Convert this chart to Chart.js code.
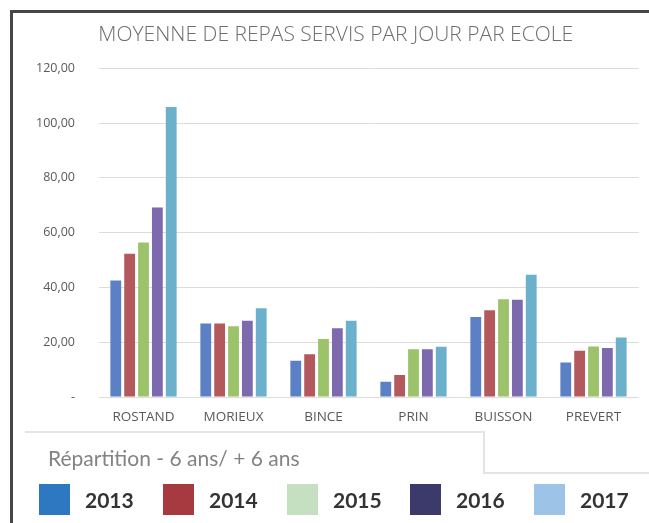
<!DOCTYPE html>
<html>
<head>
<meta charset="utf-8">
<script src="https://cdn.jsdelivr.net/npm/chart.js@4"></script>
<style>
    body { margin: 0; background: #fff; width: 649px; height: 523px; overflow: hidden; position: relative; font-family: "Open Sans", sans-serif; }
    .frame { position: absolute; left: 10px; top: 10px; width: 660px; height: 540px; border-left: 3px solid #474747; border-top: 3px solid #474747; }
    .chart-box { position: absolute; left: 21px; top: 13px; width: 628px; height: 424px; }
    .repart-box { position: absolute; left: 25px; top: 431px; width: 458px; height: 41px; border-top: 2px solid #e4e4e4; border-right: 2px solid #e4e4e4; }
    .repart-line { position: absolute; left: 483px; top: 472px; width: 170px; border-top: 2px solid #e4e4e4; }
    .repart-text { position: absolute; left: 48px; top: 445px; font-family: Lato, sans-serif; font-size: 21px; color: #838383; line-height: 25px; white-space: nowrap; }
    .legend-item { position: absolute; top: 484px; height: 31px; }
    .legend-item .sq { position: absolute; left: 0; top: 0; width: 31px; height: 31px; }
    .legend-item .lbl { position: absolute; left: 46px; top: 3px; font-family: Lato, sans-serif; font-weight: bold; font-size: 21px; line-height: 26px; color: #333; }
</style>
</head>
<body>
<div class="frame"></div>
<div class="chart-box"><canvas id="repasChart"></canvas></div>
<div class="repart-box"></div>
<div class="repart-line"></div>
<div class="repart-text">Répartition - 6 ans/ + 6 ans</div>
<div id="legend"></div>

<script>
const ecoles = ['ROSTAND', 'MORIEUX', 'BINCE', 'PRIN', 'BUISSON', 'PREVERT'];
const annees = ['2013', '2014', '2015', '2016', '2017'];

const repas2013 = [42.5, 26.8, 13.2, 5.6, 29.2, 12.6];
const repas2014 = [52.3, 26.8, 15.6, 8.0, 31.7, 16.9];
const repas2015 = [56.4, 25.8, 21.2, 17.4, 35.7, 18.4];
const repas2016 = [69.2, 27.8, 25.1, 17.4, 35.5, 17.9];
const repas2017 = [105.8, 32.4, 27.8, 18.3, 44.6, 21.7];

const yTickLabels = ['-', '20,00', '40,00', '60,00', '80,00', '100,00', '120,00'];

// couleurs des barres (graphique) et du carré de légende (bandeau du bas)
const barColors = ['#5b80c6', '#b3585c', '#9cc26a', '#7d69ad', '#6bb1cc'];
const legendColors = ['#2e78c2', '#a63a40', '#c5e0c0', '#3b3a6b', '#9dc3e6'];

const series = [repas2013, repas2014, repas2015, repas2016, repas2017];

document.addEventListener("DOMContentLoaded", function() {
    buildLegend();
    drawChart();
});

function buildLegend() {
    const legendDiv = document.getElementById('legend');
    const lefts = [39, 163, 287, 410, 534];
    for (let i = 0; i < annees.length; i++) {
        const item = document.createElement('div');
        item.className = 'legend-item';
        item.style.left = lefts[i] + 'px';

        const sq = document.createElement('div');
        sq.className = 'sq';
        sq.style.background = legendColors[i];

        const lbl = document.createElement('div');
        lbl.className = 'lbl';
        lbl.textContent = annees[i];

        item.appendChild(sq);
        item.appendChild(lbl);
        legendDiv.appendChild(item);
    }
}

function drawChart() {
    const datasets = [];
    for (let i = 0; i < annees.length; i++) {
        datasets.push({
            label: annees[i],
            data: series[i],
            backgroundColor: barColors[i],
            categoryPercentage: 0.77,
            barPercentage: 0.78
        });
    }

    const ctx = document.getElementById('repasChart').getContext('2d');
    new Chart(ctx, {
        type: 'bar',
        data: {
            labels: ecoles,
            datasets: datasets
        },
        options: {
            responsive: true,
            maintainAspectRatio: false,
            animation: false,
            layout: { padding: { left: 12, right: 10.5, top: 0, bottom: 0 } },
            plugins: {
                legend: { display: false },
                tooltip: { enabled: false },
                title: {
                    display: true,
                    text: 'MOYENNE DE REPAS SERVIS PAR JOUR PAR ECOLE',
                    color: '#6f6f6f',
                    font: { family: 'Open Sans', size: 21, weight: '300' },
                    padding: { top: 9, bottom: 21 }
                }
            },
            scales: {
                x: {
                    grid: { display: false, drawTicks: false },
                    border: { display: false },
                    ticks: {
                        color: '#595959',
                        font: { family: 'Open Sans', size: 13.5 },
                        padding: 12
                    },
                    afterFit: function(scale) { scale.height = 40; }
                },
                y: {
                    min: 0,
                    max: 120,
                    grid: { color: '#dcdcdc', drawTicks: false },
                    border: { display: false },
                    ticks: {
                        stepSize: 20,
                        color: '#595959',
                        font: { family: 'Open Sans', size: 12.5 },
                        padding: 23.5,
                        callback: function(value, index) { return yTickLabels[index]; }
                    },
                    afterFit: function(scale) { scale.width = 65.5; }
                }
            }
        }
    });
}
</script>
</body>
</html>
